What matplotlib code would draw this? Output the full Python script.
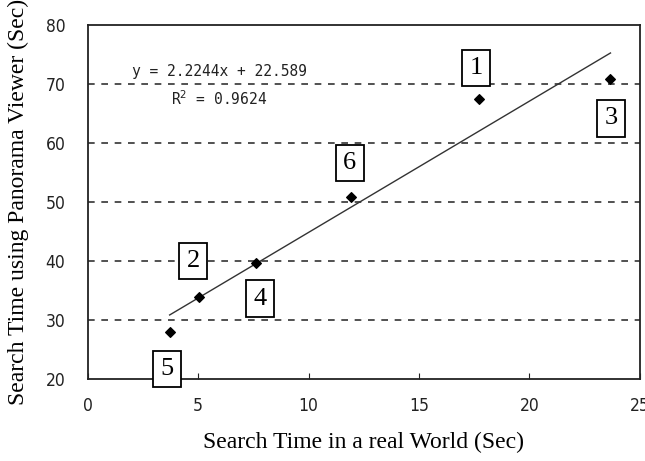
import matplotlib
matplotlib.use("Agg")
import matplotlib.pyplot as plt
import numpy as np

real_world = [17.7, 5.03, 23.67, 7.64, 3.71, 11.94]
panorama = [67.4, 33.9, 70.8, 39.7, 28.0, 50.9]
labels = ["1", "2", "3", "4", "5", "6"]
label_pos_x = [17.6, 4.77, 23.7, 7.8, 3.6, 11.87]
label_pos_y = [72.7, 40.0, 64.2, 33.6, 21.7, 56.6]
slope, intercept = 2.2244, 22.589
r2 = 0.9624

fig = plt.figure(figsize=(6.45, 4.61), dpi=100)
ax = fig.add_axes([0.136, 0.178, 0.856, 0.768])

ax.set_xlim(0, 25)
ax.set_ylim(20, 80)
for yv in [30, 40, 50, 60, 70]:
    ax.axhline(yv, color="#333333", lw=1.2, ls=(0, (4, 4)), zorder=1)

xs = np.array([min(real_world), max(real_world)])
ax.plot(xs, slope * xs + intercept, color="#333333", lw=1.0, zorder=2)
ax.scatter(real_world, panorama, marker="D", s=24, color="black", zorder=3)

for lx, ly, t in zip(label_pos_x, label_pos_y, labels):
    ax.text(lx, ly, t, family="Liberation Serif", fontsize=19, ha="center", va="center",
            bbox=dict(boxstyle="square,pad=0.28", fc="white", ec="black", lw=1.3), zorder=4)

ax.text(0.239, 0.867, "y = 2.2244x + 22.589", transform=ax.transAxes, family="DejaVu Sans Mono",
        fontsize=10.5, ha="center", va="center", color="#222222")
ax.text(0.239, 0.791, "R$^2$ = %.4f" % r2, transform=ax.transAxes, family="DejaVu Sans Mono",
        fontsize=10.5, ha="center", va="center", color="#222222")

ax.set_xticks([0, 5, 10, 15, 20, 25])
ax.set_yticks([20, 30, 40, 50, 60, 70, 80])
ax.tick_params(axis="x", direction="in", length=4, labelsize=12.5, pad=13, colors="#222222")
ax.tick_params(axis="y", length=0, labelsize=12.5, pad=16, colors="#222222")
for lab in ax.get_xticklabels() + ax.get_yticklabels():
    lab.set_fontstretch("condensed")
for sp in ax.spines.values():
    sp.set_linewidth(1.3)
    sp.set_color("#222222")

ax.set_xlabel("Search Time in a real World (Sec)", family="Liberation Serif", fontsize=17, labelpad=12)
ax.set_ylabel("Search Time using Panorama Viewer (Sec)", family="Liberation Serif", fontsize=17, labelpad=12)

fig.savefig("out.png", dpi=100)
